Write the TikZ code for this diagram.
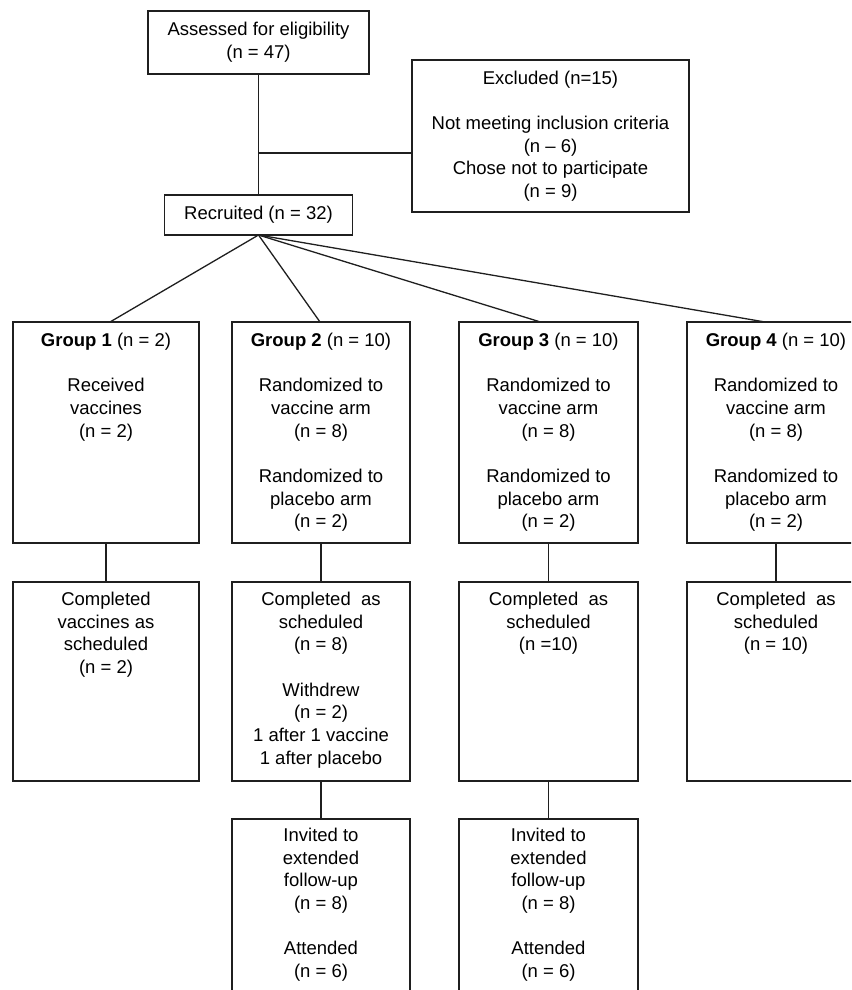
\documentclass[tikz,border=0pt]{standalone}
\usepackage{fontspec}
\setmainfont{Liberation Sans}
\begin{document}
\begin{tikzpicture}[x=1pt,y=-1pt,
  box/.style={draw=black!88, line width=1.7pt, inner sep=0pt, outer sep=0pt, rectangle},
  ctext/.style={font=\fontsize{18.5}{22.7}\selectfont, align=center},
  txt/.style={font=\fontsize{18.5}{22.7}\selectfont, align=center, inner sep=0pt, anchor=north, execute at begin node={\strut}},
  conn/.style={draw=black!88, line width=1.3pt}]
\useasboundingbox (0,0) rectangle (851,990);
\clip (0,0) rectangle (851,990);

% top boxes
\node[box, ctext, minimum width=221pt, minimum height=63pt] (assessed) at (258.5,42.5) {Assessed for eligibility\\(n = 47)};
\node[box, ctext, minimum width=277pt, minimum height=152pt] (excluded) at (550.5,136) {Excluded (n=15)\\[22.7pt]Not meeting inclusion criteria\\(n \textendash\ 6)\\Chose not to participate\\(n = 9)};
\node[box, ctext, minimum width=188pt, minimum height=40pt] (recruited) at (258.5,215) {Recruited (n = 32)};

\coordinate (junc) at (258.5,153);
\draw[conn] (assessed.south) -- (recruited.north);
\draw[conn] (junc) -- (junc -| excluded.west);

% group boxes
\node[box, minimum width=186pt, minimum height=221pt, anchor=north west] (g1) at (13,322) {};
\node[box, minimum width=178pt, minimum height=221pt, anchor=north west] (g2) at (232,322) {};
\node[box, minimum width=179pt, minimum height=221pt, anchor=north west] (g3) at (459,322) {};
\node[box, minimum width=178pt, minimum height=221pt, anchor=north west] (g4) at (687,322) {};

\node[txt, yshift=-10.7pt] (tg1) at (g1.north) {\textbf{Group 1} (n = 2)\\[22.7pt]Received\\vaccines\\(n = 2)};
\node[txt, yshift=-10.7pt] (tg2) at (g2.north) {\textbf{Group 2} (n = 10)\\[22.7pt]Randomized to\\vaccine arm\\(n = 8)\\[22.7pt]Randomized to\\placebo arm\\(n = 2)};
\node[txt, yshift=-10.7pt] (tg3) at (g3.north) {\textbf{Group 3} (n = 10)\\[22.7pt]Randomized to\\vaccine arm\\(n = 8)\\[22.7pt]Randomized to\\placebo arm\\(n = 2)};
\node[txt, yshift=-10.7pt] (tg4) at (g4.north) {\textbf{Group 4} (n = 10)\\[22.7pt]Randomized to\\vaccine arm\\(n = 8)\\[22.7pt]Randomized to\\placebo arm\\(n = 2)};

\draw[conn] (recruited.south) -- ([xshift=4pt]g1.north);
\draw[conn] (recruited.south) -- ([xshift=-1pt]g2.north);
\draw[conn] (recruited.south) -- ([xshift=-8pt]g3.north);
\draw[conn] (recruited.south) -- ([xshift=-11pt]g4.north);

% second row
\node[box, minimum width=186pt, minimum height=199pt, anchor=north west] (c1) at (13,582) {};
\node[box, minimum width=178pt, minimum height=199pt, anchor=north west] (c2) at (232,582) {};
\node[box, minimum width=179pt, minimum height=199pt, anchor=north west] (c3) at (459,582) {};
\node[box, minimum width=178pt, minimum height=199pt, anchor=north west] (c4) at (687,582) {};

\node[txt, yshift=-9.7pt] (tc1) at (c1.north) {Completed\\vaccines as\\scheduled\\(n = 2)};
\node[txt, yshift=-9.7pt] (tc2) at (c2.north) {Completed\ \ as\\scheduled\\(n = 8)\\[22.7pt]Withdrew\\(n = 2)\\1 after 1 vaccine\\1 after placebo};
\node[txt, yshift=-9.7pt] (tc3) at (c3.north) {Completed\ \ as\\scheduled\\(n =10)};
\node[txt, yshift=-9.7pt] (tc4) at (c4.north) {Completed\ \ as\\scheduled\\(n = 10)};

\draw[conn] (g1.south) -- (c1.north);
\draw[conn] (g2.south) -- (c2.north);
\draw[conn] (g3.south) -- (c3.north);
\draw[conn] (g4.south) -- (c4.north);

% third row
\node[box, minimum width=178pt, minimum height=191pt, anchor=north west] (f2) at (232,819) {};
\node[box, minimum width=179pt, minimum height=191pt, anchor=north west] (f3) at (459,819) {};

\node[txt, yshift=-8.7pt] (tf2) at (f2.north) {Invited to\\extended\\follow-up\\(n = 8)\\[22.7pt]Attended\\(n = 6)};
\node[txt, yshift=-8.7pt] (tf3) at (f3.north) {Invited to\\extended\\follow-up\\(n = 8)\\[22.7pt]Attended\\(n = 6)};

\draw[conn] (c2.south) -- (f2.north);
\draw[conn] (c3.south) -- (f3.north);
\end{tikzpicture}
\end{document}
